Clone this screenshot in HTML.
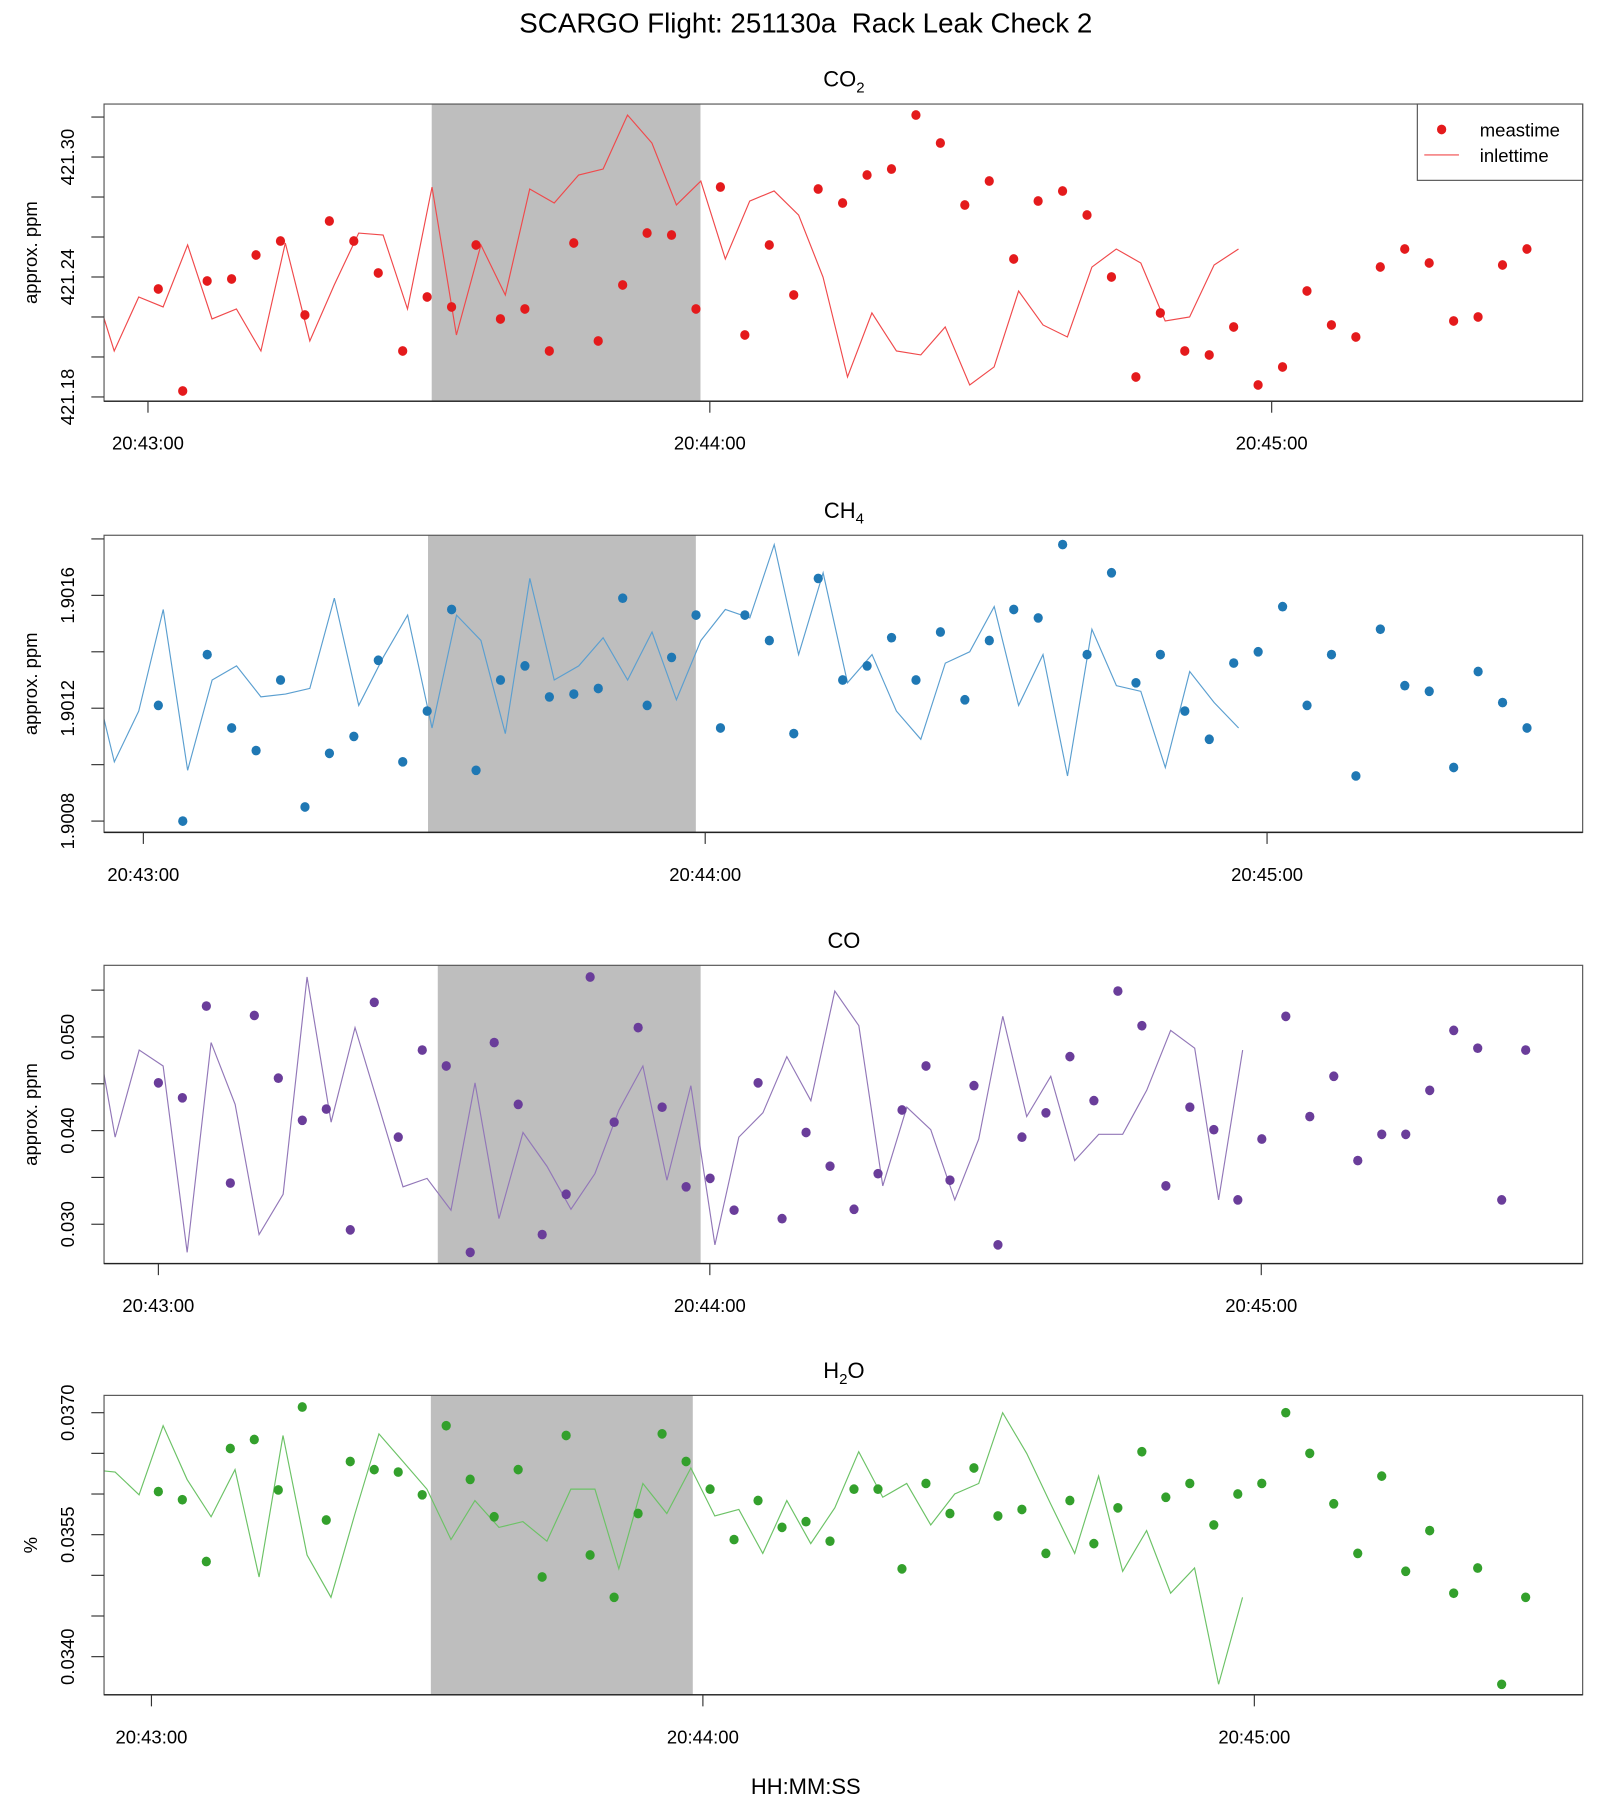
<!DOCTYPE html>
<html>
<head>
<meta charset="utf-8">
<style>
html,body{margin:0;padding:0;background:#fff;}
svg{display:block;}
text{font-family:"Liberation Sans",Arial,sans-serif;fill:#000;}
</style>
</head>
<body>
<svg id="chart" xmlns="http://www.w3.org/2000/svg" width="1600" height="1800" viewBox="0 0 1384 1557" preserveAspectRatio="none">
<rect x="0" y="0" width="1384" height="1557" fill="#fff"/>
<text x="697" y="28" font-size="24" text-anchor="middle" style="white-space:pre" xml:space="preserve">SCARGO Flight: 251130a  Rack Leak Check 2</text>
<text x="697" y="1552" font-size="19" text-anchor="middle">HH:MM:SS</text>
</svg>
<script>
// ---- data ----
const co2Values = [421.234,421.183,421.238,421.239,421.251,421.258,421.221,421.268,421.258,421.242,421.203,421.230,421.225,421.256,421.219,421.224,421.203,421.257,421.208,421.236,421.262,421.261,421.224,421.285,421.211,421.256,421.231,421.284,421.277,421.291,421.294,421.321,421.307,421.276,421.288,421.249,421.278,421.283,421.271,421.240,421.190,421.222,421.203,421.201,421.215,421.186,421.195,421.233,421.216,421.210,421.245,421.254,421.247,421.218,421.220,421.246,421.254];
const ch4Values = [1.90121,1.90080,1.90139,1.90113,1.90105,1.90130,1.90085,1.90104,1.90110,1.90137,1.90101,1.90119,1.90155,1.90098,1.90130,1.90135,1.90124,1.90125,1.90127,1.90159,1.90121,1.90138,1.90153,1.90113,1.90153,1.90144,1.90111,1.90166,1.90130,1.90135,1.90145,1.90130,1.90147,1.90123,1.90144,1.90155,1.90152,1.90178,1.90139,1.90168,1.90129,1.90139,1.90119,1.90109,1.90136,1.90140,1.90156,1.90121,1.90139,1.90096,1.90148,1.90128,1.90126,1.90099,1.90133,1.90122,1.90113];
const coValues = [0.0451,0.0435,0.0533,0.0344,0.0523,0.0456,0.0411,0.0423,0.0294,0.0537,0.0393,0.0486,0.0469,0.0270,0.0494,0.0428,0.0289,0.0332,0.0564,0.0409,0.0510,0.0425,0.0340,0.0349,0.0315,0.0451,0.0306,0.0398,0.0362,0.0316,0.0354,0.0422,0.0469,0.0347,0.0448,0.0278,0.0393,0.0419,0.0479,0.0432,0.0549,0.0512,0.0341,0.0425,0.0401,0.0326,0.0391,0.0522,0.0415,0.0458,0.0368,0.0396,0.0396,0.0443,0.0507,0.0488,0.0326,0.0486];
const h2oValues = [0.03603,0.03593,0.03517,0.03656,0.03667,0.03605,0.03707,0.03568,0.03640,0.03630,0.03627,0.03599,0.03684,0.03618,0.03572,0.03630,0.03498,0.03672,0.03525,0.03473,0.03576,0.03674,0.03640,0.03606,0.03544,0.03592,0.03559,0.03566,0.03542,0.03606,0.03606,0.03508,0.03613,0.03576,0.03632,0.03573,0.03581,0.03527,0.03592,0.03539,0.03583,0.03652,0.03596,0.03613,0.03562,0.03600,0.03613,0.03700,0.03650,0.03588,0.03527,0.03622,0.03505,0.03555,0.03478,0.03509,0.03366,0.03473];
const sampleIntervalSec = 2.61;
const co2StartSec = 1.1;
const ch4StartSec = 1.6;
const coStartSec = 0.0;
const h2oStartSec = 0.75;
const inletLagSec = 30.8;
const co2Ticks = [421.18,421.20,421.22,421.24,421.26,421.28,421.30,421.32];
const co2TickLabels = ["421.18","","","421.24","","","421.30",""];
const ch4Ticks = [1.9008,1.9010,1.9012,1.9014,1.9016,1.9018];
const ch4TickLabels = ["1.9008","","1.9012","","1.9016",""];
const coTicks = [0.030,0.035,0.040,0.045,0.050,0.055];
const coTickLabels = ["0.030","","0.040","","0.050",""];
const h2oTicks = [0.0340,0.0345,0.0350,0.0355,0.0360,0.0365,0.0370];
const h2oTickLabels = ["0.0340","","","0.0355","","","0.0370"];
const timeTicksSec = [0,60,120];
const timeTickLabels = ["20:43:00","20:44:00","20:45:00"];
const shadeStartSec = [30.3, 30.4, 30.4, 30.4];
const shadeEndSec = [59.0, 59.0, 59.0, 58.9];

// ---- layout ----
const NS = "http://www.w3.org/2000/svg";
const svg = document.getElementById('chart');
const L = 90, R = 1369;
function mk(tag, attrs, parent){
  const e = document.createElementNS(NS, tag);
  for (const k in attrs) e.setAttribute(k, attrs[k]);
  (parent || svg).appendChild(e);
  return e;
}
const panels = [
  {key:'co2', title:'CO', sub:'2', values:co2Values, start:co2StartSec, ticks:co2Ticks, labels:co2TickLabels,
   top:90, bottom:347, vmin:421.1779, vmax:421.3265, x43:128, pps:8.1, ylab:'approx. ppm',
   dot:'#e41a1c', line:'#f0494b', legend:true},
  {key:'ch4', title:'CH', sub:'4', values:ch4Values, start:ch4StartSec, ticks:ch4Ticks, labels:ch4TickLabels,
   top:463, bottom:720, vmin:1.90076, vmax:1.901813, x43:124, pps:8.1, ylab:'approx. ppm',
   dot:'#1f78b4', line:'#5b9fd0'},
  {key:'co', title:'CO', sub:'', values:coValues, start:coStartSec, ticks:coTicks, labels:coTickLabels,
   top:835, bottom:1093, vmin:0.02580, vmax:0.05765, x43:137, pps:7.95, ylab:'approx. ppm',
   dot:'#6a3d9a', line:'#9277b8'},
  {key:'h2o', title:'H', sub:'2', tail:'O', values:h2oValues, start:h2oStartSec, ticks:h2oTicks, labels:h2oTickLabels,
   top:1207, bottom:1466, vmin:0.033531, vmax:0.037213, x43:131, pps:7.95, ylab:'%',
   dot:'#33a02c', line:'#6cc266'}
];

panels.forEach(function(p, pi){
  const xs = t => p.x43 + t * p.pps;
  const ys = v => p.bottom - (v - p.vmin) / (p.vmax - p.vmin) * (p.bottom - p.top);
  const g = mk('g', {});
  
  

  const cp = mk('clipPath', {id:'clip-' + p.key}, g);
  mk('rect', {x:L, y:p.top, width:R - L, height:p.bottom - p.top}, cp);

  const sx0 = Math.max(L, xs(shadeStartSec[pi])), sx1 = Math.min(R, xs(shadeEndSec[pi]));
  const shade = mk('rect', {x:sx0, y:p.top, width:sx1 - sx0, height:p.bottom - p.top, fill:'#bebebe'}, g);
  
  

  const pts = p.values.map((v, i) => xs(p.start + i * sampleIntervalSec - inletLagSec).toFixed(1) + ',' + ys(v).toFixed(1)).join(' ');
  const ln = mk('polyline', {points:pts, fill:'none', stroke:p.line, 'stroke-width':1, 'clip-path':'url(#clip-' + p.key + ')'}, g);
  
  

  p.values.forEach(function(v, i){
    const c = mk('ellipse', {cx:xs(p.start + i * sampleIntervalSec), cy:ys(v), rx:4, ry:4.2, fill:p.dot}, g);
    
    
  });

  const fr = mk('rect', {x:L, y:p.top, width:R - L, height:p.bottom - p.top, fill:'none', stroke:'#555', 'stroke-width':1}, g);
  
  
  mk('line', {x1:L, y1:p.bottom, x2:R, y2:p.bottom, stroke:'#222', 'stroke-width':1.2}, g);

  p.ticks.forEach(function(v, i){
    const y = ys(v);
    if (y < p.top - 12 || y > p.bottom + 2) return;
    mk('line', {x1:79, y1:y, x2:L, y2:y, stroke:'#333', 'stroke-width':1}, g);
    if (p.labels[i]) {
      const t = mk('text', {x:64, y:y, 'font-size':16, 'text-anchor':'middle', transform:'rotate(-90 64 ' + y + ')'}, g);
      t.textContent = p.labels[i];
      
      
    }
  });
  const yc = (p.top + p.bottom) / 2;
  const yl = mk('text', {x:32, y:yc, 'font-size':16, 'text-anchor':'middle', transform:'rotate(-90 32 ' + yc + ')'}, g);
  yl.textContent = p.ylab;
  
  

  timeTicksSec.forEach(function(t, i){
    const x = xs(t);
    mk('line', {x1:x, y1:p.bottom, x2:x, y2:p.bottom + 10, stroke:'#333', 'stroke-width':1}, g);
    const tl = mk('text', {x:x, y:p.bottom + 42, 'font-size':16, 'text-anchor':'middle'}, g);
    tl.textContent = timeTickLabels[i];
    
    
  });

  const tt = mk('text', {x:730, y:p.top - 15, 'font-size':19, 'text-anchor':'middle'}, g);
  
  
  tt.appendChild(document.createTextNode(p.title));
  if (p.sub) {
    const s = mk('tspan', {'font-size':13, dy:5}, tt);
    s.textContent = p.sub;
    if (p.tail) { const s2 = mk('tspan', {dy:-5}, tt); s2.textContent = p.tail; }
  }

  if (p.legend) {
    const lg = mk('g', {}, g);
    
    
    mk('rect', {x:1226, y:p.top, width:R - 1226, height:66, fill:'#fff', stroke:'#555', 'stroke-width':1}, lg);
    const d = mk('ellipse', {cx:1247, cy:p.top + 22, rx:4, ry:4.2, fill:p.dot}, lg);
    
    
    const t1 = mk('text', {x:1280, y:p.top + 28, 'font-size':16}, lg);
    t1.textContent = 'meastime';
    
    
    const l2 = mk('line', {x1:1232, y1:p.top + 44, x2:1262, y2:p.top + 44, stroke:p.line, 'stroke-width':1}, lg);
    
    
    const t2 = mk('text', {x:1280, y:p.top + 50, 'font-size':16}, lg);
    t2.textContent = 'inlettime';
    
    
  }
});
</script>
</body>
</html>
